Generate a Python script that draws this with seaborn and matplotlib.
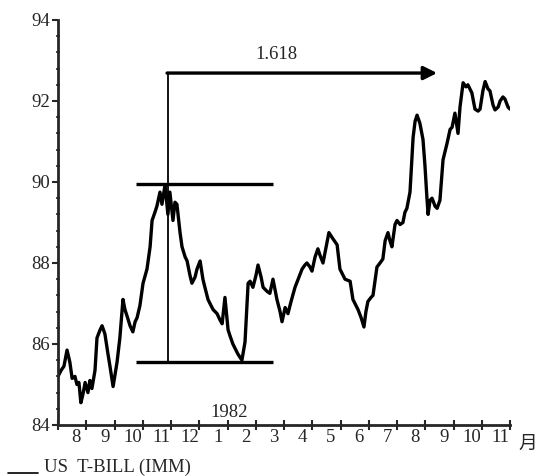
import numpy as np
import pandas as pd
import matplotlib
matplotlib.use("Agg")
import matplotlib.pyplot as plt
import seaborn as sns

# Months elapsed since the start of July 1981
months = [
    0.00, 0.11, 0.21, 0.32, 0.42, 0.50, 0.60, 0.67, 0.74, 0.81, 0.88, 0.96,
    1.06, 1.13, 1.20, 1.31, 1.38, 1.49, 1.56, 1.66, 1.77, 1.84, 1.95, 2.02,
    2.09, 2.19, 2.30, 2.37, 2.44, 2.55, 2.65, 2.73, 2.80, 2.90, 3.01, 3.15,
    3.26, 3.33, 3.43, 3.50, 3.61, 3.68, 3.79, 3.89, 3.96, 4.07, 4.14, 4.21,
    4.32, 4.39, 4.50, 4.57, 4.67, 4.74, 4.85, 4.92, 5.03, 5.13, 5.20, 5.31,
    5.38, 5.49, 5.63, 5.73, 5.81, 5.91, 6.02, 6.09, 6.19, 6.30, 6.37, 6.51,
    6.62, 6.73, 6.80, 6.90, 7.01, 7.08, 7.19, 7.26, 7.40, 7.50, 7.61, 7.75,
    7.86, 7.93, 8.04, 8.14, 8.25, 8.39, 8.50, 8.64, 8.74, 8.81, 8.92, 8.99,
    9.10, 9.20, 9.27, 9.38, 9.49, 9.59, 9.73, 9.88, 9.98, 10.09, 10.16, 10.34,
    10.44, 10.55, 10.62, 10.73, 10.83, 10.90, 10.97, 11.08, 11.15, 11.29, 11.40, 11.50,
    11.58, 11.68, 11.75, 11.82, 11.93, 12.00, 12.11, 12.21, 12.28, 12.35, 12.46, 12.57,
    12.64, 12.71, 12.81, 12.92, 12.99, 13.06, 13.10, 13.17, 13.24, 13.35, 13.42, 13.52,
    13.63, 13.77, 13.88, 13.95, 14.05, 14.16, 14.23, 14.34, 14.44, 14.51, 14.65, 14.76,
    14.87, 14.94, 15.04, 15.12, 15.22, 15.29, 15.40, 15.47, 15.58, 15.65, 15.75, 15.82,
    15.93, 16.00,
]

# US T-Bill (IMM) futures price
price = [
    85.20, 85.35, 85.45, 85.85, 85.55, 85.15, 85.20, 85.00, 85.05, 84.55, 84.75, 85.05,
    84.80, 85.10, 84.90, 85.35, 86.15, 86.35, 86.45, 86.25, 85.75, 85.45, 84.95, 85.25,
    85.55, 86.15, 87.10, 86.85, 86.70, 86.45, 86.30, 86.55, 86.65, 86.95, 87.50, 87.85,
    88.40, 89.05, 89.25, 89.40, 89.75, 89.45, 89.93, 89.20, 89.75, 89.05, 89.50, 89.45,
    88.75, 88.40, 88.15, 88.05, 87.70, 87.50, 87.65, 87.85, 88.05, 87.60, 87.40, 87.10,
    87.00, 86.85, 86.75, 86.60, 86.50, 87.15, 86.35, 86.20, 86.00, 85.85, 85.75, 85.60,
    86.05, 87.50, 87.55, 87.40, 87.70, 87.95, 87.65, 87.40, 87.30, 87.25, 87.60, 87.10,
    86.80, 86.55, 86.90, 86.75, 87.05, 87.40, 87.60, 87.85, 87.95, 88.00, 87.90, 87.80,
    88.15, 88.35, 88.20, 88.00, 88.40, 88.75, 88.60, 88.45, 87.85, 87.70, 87.60, 87.55,
    87.10, 86.95, 86.85, 86.65, 86.42, 86.80, 87.05, 87.15, 87.20, 87.90, 88.00, 88.10,
    88.55, 88.75, 88.55, 88.40, 88.95, 89.05, 88.95, 89.00, 89.25, 89.35, 89.75, 91.10,
    91.50, 91.65, 91.45, 91.05, 90.40, 89.60, 89.20, 89.55, 89.60, 89.40, 89.35, 89.55,
    90.55, 90.95, 91.30, 91.35, 91.70, 91.20, 91.85, 92.45, 92.35, 92.40, 92.20, 91.80,
    91.75, 91.80, 92.25, 92.48, 92.30, 92.25, 91.90, 91.78, 91.85, 92.00, 92.10, 92.05,
    91.85, 91.80,
]

month_labels = ["8", "9", "10", "11", "12", "1", "2", "3", "4", "5", "6", "7",
                "8", "9", "10", "11"]

# Swing low/high of the 1981 rally and the 1.618 projection
swing_high = 89.95
swing_low = 85.56
projection = 92.69
pivot_month = 3.89
target_month = 13.42
band_start, band_end = 2.75, 7.6
ratio_label = "1.618"
year_label = "1982"
series_name = "US  T-BILL (IMM)"

sns.set_style("ticks")
plt.rcParams["font.family"] = ["Liberation Serif", "DejaVu Serif"]

fig = plt.figure(figsize=(5.38, 4.76), dpi=100)
ax = fig.add_axes([58 / 538, 1 - 425 / 476, 452 / 538, 405 / 476])

df = pd.DataFrame({"month": months, "price": price})
sns.lineplot(data=df, x="month", y="price", ax=ax, color="black", lw=2.4,
             estimator=None, sort=False)

# Support / resistance levels and the projection arrow
ax.hlines([swing_high, swing_low], band_start, band_end, color="black", lw=2.4)
ax.vlines(pivot_month, swing_low, projection, color="black", lw=1.3)
ax.annotate("", xy=(target_month, projection), xytext=(pivot_month - 0.03, projection),
            arrowprops=dict(arrowstyle="-|>", color="black", lw=2.4,
                            mutation_scale=20, shrinkA=0, shrinkB=0))
ax.text(7.75, 93.15, ratio_label, ha="center", va="center", fontsize=13.5)
ax.text(6.05, 84.32, year_label, ha="center", va="center", fontsize=13.5)

ax.set_xlim(0, 16)
ax.set_ylim(84, 94)
ax.set_xlabel("")
ax.set_ylabel("")

ax.set_yticks([84, 86, 88, 90, 92, 94])
ax.set_yticklabels(["84", "86", "88", "90", "92", "94"], fontsize=13.5)
ax.set_yticks(np.arange(84.4, 94, 0.4), minor=True)
ax.tick_params(axis="y", which="major", direction="out", length=4, width=1.5, pad=2)
ax.tick_params(axis="y", which="minor", direction="inout", length=3, width=1.2)

ax.set_xticks(range(17))
ax.set_xticklabels([""] * 17)
ax.set_xticks([k + 1 - 0.35 for k in range(len(month_labels))], minor=True)
ax.set_xticklabels(month_labels, minor=True, fontsize=13.5)
ax.tick_params(axis="x", which="major", direction="inout", length=7, width=1.5)
ax.tick_params(axis="x", which="minor", length=0, pad=3)

sns.despine(ax=ax)
for side in ("left", "bottom"):
    ax.spines[side].set_linewidth(2.0)

ax.text(16.64, -0.045, "月", transform=ax.get_xaxis_transform(), ha="center",
        va="center", fontsize=13.5, family=["Noto Sans CJK SC", "DejaVu Sans"])

# Series key below the axis
fig.add_artist(plt.Line2D([8 / 538, 38 / 538], [1 - 473 / 476, 1 - 473 / 476],
                          color="black", lw=1.2))
fig.text(44 / 538, 1 - 467 / 476, series_name, ha="left", va="center", fontsize=13.5)

fig.savefig("out.png", dpi=100)
